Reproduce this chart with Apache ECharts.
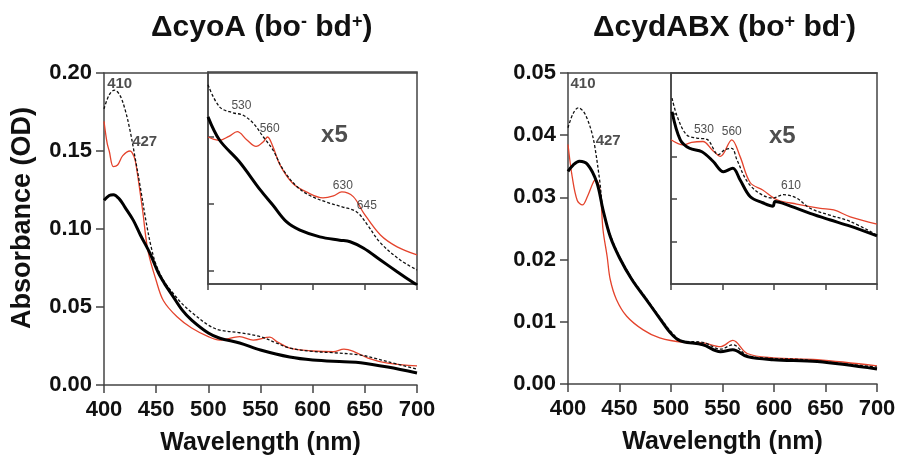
<!DOCTYPE html>
<html>
<head>
	<meta charset="utf-8">
	<title>cyoA / cydABX spectra</title>
	<style>
		html, body { margin: 0; padding: 0; background: #fff; }
	</style>
</head>
<body>
<script type="text/javascript" src="https://cdn.jsdelivr.net/npm/echarts@6/dist/echarts.min.js"></script>
<div id="container" style="width: 903px;height: 465px;"></div>
<script type="text/javascript">
	// ---- left panel: ΔcyoA, main plot (OD)
	var lRedNm  = [400,403,405,409,413,418,425,429,431,437,442,450,457,470,484,500,511,530,543,559,566,578,600,620,630,640,653,672,700];
	var lRedOD  = [0.169,0.155,0.150,0.140,0.141,0.147,0.150,0.146,0.140,0.112,0.0865,0.067,0.054,0.0437,0.0365,0.031,0.0288,0.031,0.0288,0.0307,0.0277,0.0237,0.0218,0.0213,0.023,0.0213,0.0173,0.014,0.0122];
	var lDashNm = [400,405,410,415,420,425,430,435,440,445,450,458,466,475,485,500,511,530,550,565,578,600,620,646,660,672,700];
	var lDashOD = [0.177,0.186,0.189,0.186,0.177,0.163,0.145,0.126,0.106,0.089,0.077,0.066,0.059,0.052,0.046,0.0384,0.0352,0.0335,0.031,0.027,0.0237,0.0215,0.0207,0.0192,0.017,0.0149,0.0102];
	var lBlkNm  = [400,405,409,415,420,428,435,444,452,458,466,475,484,500,511,530,550,578,600,630,646,672,700];
	var lBlkOD  = [0.1185,0.1215,0.122,0.119,0.114,0.1057,0.096,0.0845,0.072,0.065,0.057,0.048,0.0416,0.0333,0.030,0.0269,0.0224,0.0179,0.016,0.0149,0.0143,0.0115,0.0077];

	// left panel, x5 inset (arbitrary units)
	var liRedNm  = [500,505,511,520,528,537,546,553,557,562,569,581,594,610,620,628,639,649,665,681,700];
	var liRedV   = [2.0,1.97,1.95,2.01,2.08,1.96,1.86,1.93,2.0,1.86,1.58,1.31,1.18,1.09,1.12,1.18,1.11,0.865,0.537,0.36,0.24];
	var liDashNm = [500,511,524,533,543,553,562,572,585,597,613,629,642,652,665,684,700];
	var liDashV  = [2.78,2.45,2.36,2.33,2.21,2.0,1.81,1.51,1.26,1.13,1.03,0.955,0.885,0.70,0.42,0.164,0.015];
	var liBlkNm  = [500,511,530,550,562,575,588,607,626,636,649,665,681,697,700];
	var liBlkV   = [2.30,1.955,1.63,1.21,0.985,0.736,0.61,0.51,0.46,0.437,0.34,0.164,-0.01,-0.18,-0.21];

	// ---- right panel: ΔcydABX, main plot (OD)
	var rRedNm  = [400,404,409,414,419,425,427,431,434,438,441,447,457,473,489,512,531,548,560,574,599,642,700];
	var rRedOD  = [0.0385,0.0334,0.0295,0.0288,0.0302,0.0326,0.0328,0.0312,0.0248,0.0205,0.0168,0.0136,0.0109,0.0087,0.0074,0.0067,0.0066,0.006,0.007,0.0049,0.0042,0.0039,0.0029];
	var rDashNm = [400,405,410,415,419,423,426,431,434,441,450,462,475,488,499,506,512,531,548,560,574,599,620,642,700];
	var rDashOD = [0.0412,0.0435,0.0444,0.0438,0.0425,0.0405,0.0382,0.0324,0.028,0.024,0.0205,0.017,0.014,0.011,0.0086,0.0074,0.0069,0.0067,0.0056,0.0063,0.0046,0.0041,0.004,0.0037,0.0027];
	var rBlkNm  = [400,405,411,419,428,434,441,450,462,475,488,499,506,512,531,548,560,574,599,642,700];
	var rBlkOD  = [0.0342,0.0352,0.0358,0.0353,0.0324,0.028,0.0237,0.0203,0.0168,0.0138,0.0108,0.0083,0.0072,0.0068,0.0063,0.0052,0.0055,0.0044,0.0039,0.0036,0.0024];

	// right panel, x5 inset (arbitrary units)
	var riRedNm  = [500,512,520,531,540,548,559,567,577,589,603,622,645,658,674,700];
	var riRedV   = [3.39,3.27,3.33,3.35,3.15,3.0,3.39,3.0,2.38,2.21,1.98,1.88,1.78,1.74,1.58,1.41];
	var riDashNm = [501,506,515,525,535,546,552,559,564,574,586,599,609,622,635,654,674,700];
	var riDashV  = [4.37,3.94,3.51,3.43,3.40,3.04,3.15,3.19,2.92,2.41,2.13,2.02,2.10,2.02,1.78,1.62,1.47,1.15];
	var riBlkNm  = [501,509,518,530,541,551,560,567,577,589,599,601,616,635,654,674,700];
	var riBlkV   = [4.05,3.39,3.19,3.11,2.88,2.64,2.72,2.45,2.05,1.91,1.83,1.94,1.83,1.66,1.51,1.36,1.13];

	// peak labels [nm, value, text]
	var lMainNotes  = [[415,0.193,'410'],[439,0.156,'427']];
	var lInsetNotes = [[532,2.46,'530'],[559,2.12,'560'],[629,1.27,'630'],[652,0.97,'645']];
	var rMainNotes  = [[414.6,0.0483,'410'],[439,0.0391,'427']];
	var rInsetNotes = [[532,3.62,'530'],[559,3.58,'560'],[616.5,2.31,'610']];
	var x5Notes     = [[621,2.03,'x5']];
	var x5NotesR    = [[608,3.46,'x5']];

	var FONT = 'Liberation Sans, Arial, sans-serif';
	var AX = '#444';
	var RED = '#e4432c';

	function pairs(xs, ys) {
		var out = [];
		for (var i = 0; i < xs.length; i++) out.push([xs[i], ys[i]]);
		return out;
	}

	function lineSeries(xi, yi, xs, ys, kind) {
		var s = {
			type: 'line', xAxisIndex: xi, yAxisIndex: yi,
			data: pairs(xs, ys), showSymbol: false, smooth: 0.35, clip: true,
			animation: false, z: 3
		};
		if (kind === 'red') s.lineStyle = { color: RED, width: 1.3 };
		if (kind === 'dash') s.lineStyle = { color: '#111', width: 1.3, type: [3, 2] };
		if (kind === 'blk') s.lineStyle = { color: '#000', width: 3 };
		return s;
	}

	function noteSeries(xi, yi, notes, size, weight) {
		return {
			type: 'scatter', xAxisIndex: xi, yAxisIndex: yi, symbolSize: 0,
			animation: false, silent: true, z: 5,
			data: notes.map(function (n) { return { value: [n[0], n[1]], name: n[2] }; }),
			label: {
				show: true, position: 'inside', formatter: '{b}',
				fontFamily: FONT, fontSize: size, fontWeight: weight, color: '#222'
			}
		};
	}

	function mainX(grid) {
		return {
			type: 'value', gridIndex: grid, min: 400, max: 700, interval: 50,
			name: 'Wavelength (nm)', nameLocation: 'middle', nameGap: 46,
			nameTextStyle: { fontFamily: FONT, fontSize: 25, fontWeight: 'bold', color: '#111' },
			axisLine: { onZero: false, lineStyle: { color: AX, width: 1.5 } },
			axisTick: { length: 8, lineStyle: { color: AX, width: 1.5 } },
			axisLabel: { margin: 14, fontFamily: FONT, fontSize: 22, fontWeight: 'bold', color: '#111' },
			splitLine: { show: false }
		};
	}
	function topX(grid) {
		return {
			type: 'value', gridIndex: grid, min: 400, max: 700, position: 'top',
			axisLine: { show: true, onZero: false, lineStyle: { color: AX, width: 1.5 } },
			axisTick: { show: false }, axisLabel: { show: false }, splitLine: { show: false }
		};
	}
	function insetX(grid) {
		return {
			type: 'value', gridIndex: grid, min: 500, max: 700, interval: 50,
			axisLine: { show: true, onZero: false, lineStyle: { color: AX, width: 1.5 } },
			axisTick: { length: 6, lineStyle: { color: AX, width: 1.5 } },
			axisLabel: { show: false }, splitLine: { show: false }
		};
	}
	function mainY(grid, max, step, withName) {
		var y = {
			type: 'value', gridIndex: grid, min: 0, max: max, interval: step,
			axisLine: { show: true, onZero: false, lineStyle: { color: AX, width: 1.5 } },
			axisTick: { show: true, length: 8, lineStyle: { color: AX, width: 1.5 } },
			axisLabel: {
				margin: 12, fontFamily: FONT, fontSize: 22, fontWeight: 'bold', color: '#111',
				formatter: function (v) { return v.toFixed(2); }
			},
			splitLine: { show: false }
		};
		if (withName) {
			y.name = 'Absorbance (OD)';
			y.nameLocation = 'middle';
			y.nameGap = 68;
			y.nameTextStyle = { fontFamily: FONT, fontSize: 27, fontWeight: 'bold', color: '#111', padding: [0, 0, 0, 22] };
		}
		return y;
	}
	function insetY(grid, min, max, ticks) {
		return {
			type: 'value', gridIndex: grid, min: min, max: max,
			axisLine: { show: true, onZero: false, lineStyle: { color: AX, width: 1.5 } },
			axisTick: { show: true, inside: true, length: 6, customValues: ticks, lineStyle: { color: AX, width: 1.5 } },
			axisLabel: { show: false }, splitLine: { show: false }
		};
	}

	var titleStyle = {
		fontFamily: FONT, fontSize: 30, fontWeight: 'bold', color: '#111',
		rich: { s: { fontFamily: FONT, fontSize: 18, fontWeight: 'bold', color: '#111', verticalAlign: 'top', lineHeight: 16 } }
	};

	var myChart = echarts.init(document.getElementById('container'), null, { renderer: 'canvas' });
	var option = {
		backgroundColor: '#fff',
		animation: false,
		title: [
			{ text: 'ΔcyoA (bo{s|-} bd{s|+})', left: 146, top: 8, textStyle: titleStyle },
			{ text: 'ΔcydABX (bo{s|+} bd{s|-})', left: 588, top: 8, textStyle: titleStyle }
		],
		grid: [
			{ left: 104, top: 73, width: 313, height: 312 },
			{ left: 208, top: 72, width: 209, height: 212, show: true, borderColor: AX, borderWidth: 1.5, backgroundColor: 'transparent' },
			{ left: 568, top: 73, width: 309, height: 311 },
			{ left: 671, top: 73, width: 206, height: 211, show: true, borderColor: AX, borderWidth: 1.5, backgroundColor: 'transparent' }
		],
		xAxis: [mainX(0), topX(0), insetX(1), mainX(2), topX(2), insetX(3)],
		yAxis: [
			mainY(0, 0.20, 0.05, true),
			insetY(1, -0.194, 2.97, [0, 1, 2]),
			mainY(2, 0.05, 0.01, false),
			insetY(3, 0, 4.96, [1, 2, 3, 4])
		],
		series: [
			lineSeries(0, 0, lRedNm, lRedOD, 'red'),
			lineSeries(0, 0, lDashNm, lDashOD, 'dash'),
			lineSeries(0, 0, lBlkNm, lBlkOD, 'blk'),
			lineSeries(2, 1, liRedNm, liRedV, 'red'),
			lineSeries(2, 1, liDashNm, liDashV, 'dash'),
			lineSeries(2, 1, liBlkNm, liBlkV, 'blk'),
			lineSeries(3, 2, rRedNm, rRedOD, 'red'),
			lineSeries(3, 2, rDashNm, rDashOD, 'dash'),
			lineSeries(3, 2, rBlkNm, rBlkOD, 'blk'),
			lineSeries(5, 3, riRedNm, riRedV, 'red'),
			lineSeries(5, 3, riDashNm, riDashV, 'dash'),
			lineSeries(5, 3, riBlkNm, riBlkV, 'blk'),
			noteSeries(0, 0, lMainNotes, 15, 'bold'),
			noteSeries(2, 1, lInsetNotes, 12, 'normal'),
			noteSeries(2, 1, x5Notes, 24, 'bold'),
			noteSeries(3, 2, rMainNotes, 15, 'bold'),
			noteSeries(5, 3, rInsetNotes, 12, 'normal'),
			noteSeries(5, 3, x5NotesR, 24, 'bold')
		]
	};
	myChart.setOption(option);

	window.addEventListener('resize', myChart.resize);
</script>
</body>
</html>
